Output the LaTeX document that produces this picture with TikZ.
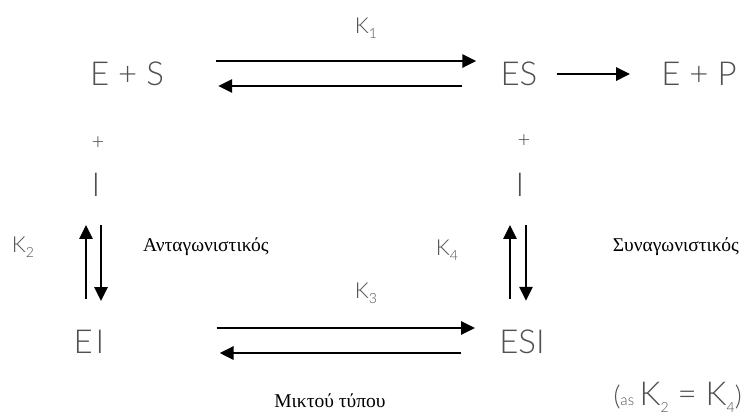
\documentclass[tikz,border=0pt]{standalone}
\usepackage{fontspec}
\setmainfont{Liberation Serif}
\newfontfamily\thinsans{Lato Light}
\usetikzlibrary{arrows.meta,positioning}
\definecolor{labelgray}{HTML}{505050}
\newcommand{\Kc}[1]{K\raisebox{-0.22em}{\fontsize{14}{14}\selectfont #1}}

\tikzset{
  species/.style={font=\thinsans\fontsize{33}{33}\selectfont, text=labelgray, inner sep=0pt},
  rate/.style={font=\thinsans\fontsize{22}{22}\selectfont, text=labelgray, inner sep=0pt},
  kind/.style={font=\fontsize{19.5}{19.5}\selectfont, inner sep=0pt},
  rxn/.style={line width=2.8pt, -{Triangle[length=14pt,width=13pt]}},
}

\begin{document}
\begin{tikzpicture}[x=1pt,y=-1pt]
\useasboundingbox (0,0) rectangle (745,416);
% species
\node[species] (es) at (127,74) {E + S};
\node[species] (esc) at (519,74) {ES};
\node[species] (ep) at (699,74) {E + P};
\node[species] (ei) at (89,342) {E\hspace{3pt}I};
\node[species] (esi) at (522,342) {ESI};
\node[rate] (plusl) at (98,143) {+};
\node[species] (il) at (96,185) {I};
\node[rate] (plusr) at (524,141) {+};
\node[species] (ir) at (520,185) {I};
% constants and labels
\node[rate] (k1) at (366,28) {\Kc{1}};
\node[rate] (k2) at (23,247) {\Kc{2}};
\node[rate] (k3) at (366,293) {\Kc{3}};
\node[rate] (k4) at (447,250) {\Kc{4}};
\node[kind, anchor=west] (comp) at (143,247) {Ανταγωνιστικός};
\node[kind, anchor=east] (uncomp) at (739,247) {Συναγωνιστικός};
\node[kind] (mixed) at (330,401) {Μικτού τύπου};
\node[species, anchor=east] (note) at (742,397) {{\fontsize{27}{27}\selectfont(}{\fontsize{15}{15}\selectfont as}\,\Kc{2} = \Kc{4}{\fontsize{27}{27}\selectfont)}};
% arrows
\draw[rxn, shorten <=52pt, shorten >=24pt] ([yshift=13pt]es.east) -- ([yshift=13pt]esc.west);
\draw[rxn, shorten <=38pt, shorten >=54pt] ([yshift=-12pt]esc.west) -- ([yshift=-12pt]es.east);
\draw[rxn, shorten <=19pt, shorten >=31pt] (esc.east) -- (ep.west);
\draw[rxn, shorten <=112pt, shorten >=24pt] ([yshift=14pt]ei.east) -- ([yshift=14pt]esi.west);
\draw[rxn, shorten <=38pt, shorten >=115pt] ([yshift=-11pt]esi.west) -- ([yshift=-11pt]ei.east);
\coordinate (lup) at ([xshift=-10pt]il.south);
\coordinate (ldown) at ([xshift=5pt]il.south);
\coordinate (rup) at ([xshift=-10pt]ir.south);
\coordinate (rdown) at ([xshift=6pt]ir.south);
\draw[rxn, shorten <=31pt, shorten >=28pt] (lup |- ei.north) -- (lup);
\draw[rxn, shorten <=28pt, shorten >=29pt] (ldown) -- (ldown |- ei.north);
\draw[rxn, shorten <=31pt, shorten >=28pt] (rup |- esi.north) -- (rup);
\draw[rxn, shorten <=28pt, shorten >=29pt] (rdown) -- (rdown |- esi.north);
\end{tikzpicture}
\end{document}
